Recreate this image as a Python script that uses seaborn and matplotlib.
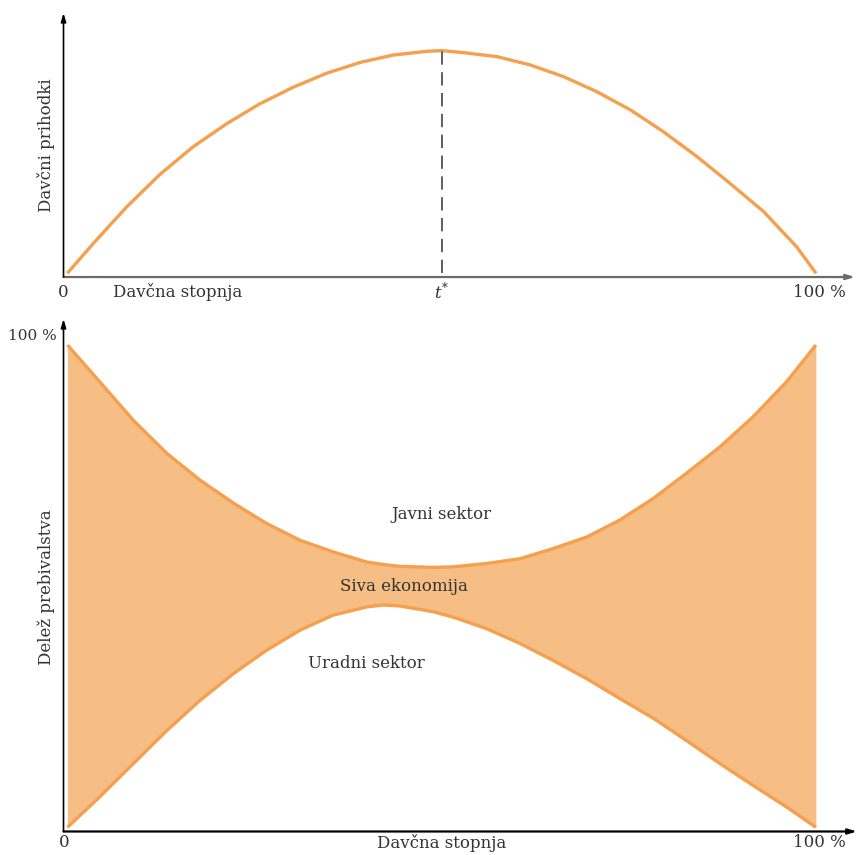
import numpy as np
import pandas as pd
import matplotlib
matplotlib.use('Agg')
import matplotlib.pyplot as plt
import seaborn as sns

sns.set_style('white')
plt.rcParams['font.family'] = ['DejaVu Serif']
plt.rcParams['mathtext.fontset'] = 'dejavuserif'

# zgornji graf: Lafferjeva krivulja (odčitano s slike)
rev_x = [0, 0.035, 0.079, 0.124, 0.168, 0.213, 0.257, 0.302, 0.346, 0.391, 0.435, 0.48, 0.5,
         0.529, 0.574, 0.618, 0.663, 0.707, 0.752, 0.796, 0.841, 0.885, 0.93, 0.974, 1.0]
rev_y = [0, 0.135, 0.297, 0.445, 0.568, 0.672, 0.761, 0.836, 0.898, 0.947, 0.980, 0.997, 1.0,
         0.991, 0.973, 0.936, 0.883, 0.816, 0.734, 0.636, 0.524, 0.404, 0.277, 0.119, 0]
t_star = 0.5

# spodnji graf: delež prebivalstva
share_x = [0, 0.043, 0.088, 0.133, 0.177, 0.222, 0.266, 0.311, 0.355, 0.40, 0.422, 0.444, 0.489,
           0.515, 0.56, 0.605, 0.649, 0.694, 0.738, 0.783, 0.827, 0.872, 0.916, 0.961, 1.0]
upper = [1.0, 0.924, 0.844, 0.775, 0.720, 0.672, 0.630, 0.595, 0.571, 0.550, 0.545, 0.541, 0.539,
         0.540, 0.547, 0.557, 0.578, 0.602, 0.637, 0.682, 0.734, 0.789, 0.851, 0.924, 1.0]
lower = [0, 0.063, 0.132, 0.201, 0.263, 0.319, 0.367, 0.409, 0.440, 0.457, 0.461, 0.459, 0.447,
         0.436, 0.412, 0.381, 0.346, 0.308, 0.267, 0.226, 0.180, 0.132, 0.087, 0.042, 0]

line_c = '#F4A04E'
fill_c = '#F6BE84'
txt_c = '#333333'
fs = 12
lw = 2.4

fig = plt.figure(figsize=(8.57, 8.55), dpi=100)
ax1 = fig.add_axes([0.0741, 0.676, 0.9236, 0.3088])
ax2 = fig.add_axes([0.0741, 0.0275, 0.9259, 0.5994])

def arrows(ax, xcol):
    for s in ax.spines.values():
        s.set_visible(False)
    ax.set_xticks([])
    ax.set_yticks([])
    ax.annotate('', xy=(1, 0), xytext=(0, 0), xycoords='axes fraction',
                arrowprops=dict(arrowstyle='-|>,head_width=0.15,head_length=0.5', color=xcol, lw=1.6,
                                shrinkA=0, shrinkB=0))
    ax.annotate('', xy=(0, 1), xytext=(0, 0), xycoords='axes fraction',
                arrowprops=dict(arrowstyle='-|>,head_width=0.15,head_length=0.5', color='black', lw=1.2,
                                shrinkA=0, shrinkB=0))

# --- zgoraj ---
df1 = pd.DataFrame({'x': rev_x, 'y': rev_y})
sns.lineplot(data=df1, x='x', y='y', ax=ax1, color=line_c, lw=lw,
             solid_capstyle='butt', solid_joinstyle='round')
ax1.plot([t_star, t_star], [0, max(rev_y)], ls=(0, (8, 4.5)), color='#444444', lw=1.2)
ax1.set_xlim(-0.005, 1.052)
ax1.set_ylim(-0.0166, 1.169)
ax1.set_xlabel('')
ax1.set_ylabel('')
arrows(ax1, '#6b6b6b')
tr1 = ax1.get_xaxis_transform()
ax1.text(-0.005, -0.057, '0', transform=tr1, ha='center', va='center', fontsize=fs, color=txt_c)
ax1.text(0.147, -0.057, 'Davčna stopnja', transform=tr1, ha='center', va='center', fontsize=fs, color=txt_c)
ax1.text(t_star, -0.057, '$t^{*}$', transform=tr1, ha='center', va='center', fontsize=fs, color=txt_c)
ax1.text(1.005, -0.057, '100 %', transform=tr1, ha='center', va='center', fontsize=fs, color=txt_c)
fig.text(46 / 857, 1 - 145 / 855, 'Davčni prihodki', rotation=90, ha='center', va='center',
         fontsize=fs, color=txt_c)

# --- spodaj ---
ax2.fill_between(share_x, lower, upper, color=fill_c, lw=0)
sns.lineplot(x=share_x, y=upper, ax=ax2, color=line_c, lw=lw,
             solid_capstyle='butt', solid_joinstyle='round')
sns.lineplot(x=share_x, y=lower, ax=ax2, color=line_c, lw=lw,
             solid_capstyle='butt', solid_joinstyle='round')
ax2.set_xlim(-0.0053, 1.055)
ax2.set_ylim(-0.0087, 1.054)
arrows(ax2, 'black')
tr2 = ax2.get_xaxis_transform()
ax2.text(-0.005, -0.0224, '0', transform=tr2, ha='center', va='center', fontsize=fs, color=txt_c)
ax2.text(0.5, -0.0224, 'Davčna stopnja', transform=tr2, ha='center', va='center', fontsize=fs, color=txt_c)
ax2.text(1.005, -0.0224, '100 %', transform=tr2, ha='center', va='center', fontsize=fs, color=txt_c)
fig.text(32 / 857, 1 - 336 / 855, '100 %', ha='center', va='center', fontsize=fs - 1, color=txt_c)
fig.text(46 / 857, 1 - 587 / 855, 'Delež prebivalstva', rotation=90, ha='center', va='center',
         fontsize=fs, color=txt_c)

ax2.text(0.5, 0.649, 'Javni sektor', ha='center', va='center', fontsize=fs, color=txt_c)
ax2.text(0.45, 0.5, 'Siva ekonomija', ha='center', va='center', fontsize=fs, color=txt_c)
ax2.text(0.399, 0.34, 'Uradni sektor', ha='center', va='center', fontsize=fs, color=txt_c)

fig.savefig('out.png', dpi=100)
